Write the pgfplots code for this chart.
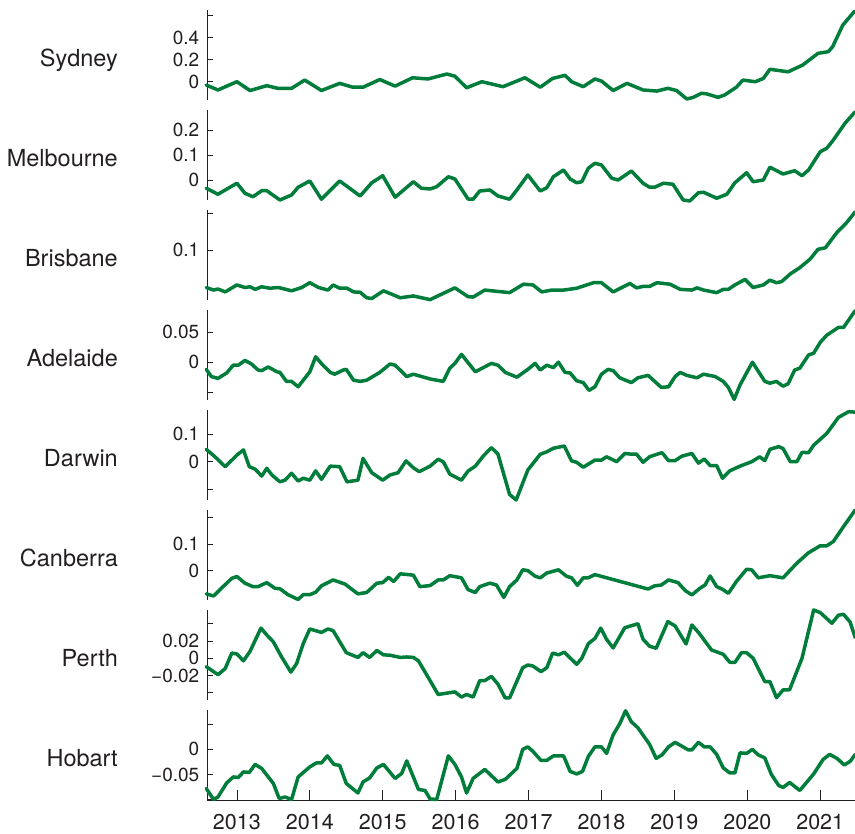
\documentclass[border=0pt]{standalone}
\usepackage{fontspec}
\setmainfont{TeX Gyre Heros}
\usepackage{pgfplots}
\pgfplotsset{compat=1.18}
\definecolor{lg}{RGB}{0,125,58}
\definecolor{ax}{RGB}{35,31,32}
\tikzset{city/.style={font=\fontsize{23.5}{23.5}\selectfont, anchor=base east, inner sep=0pt, text=ax, xshift=-89pt, yshift=33pt}}
\pgfplotsset{
 panel/.style={
  scale only axis, width=648pt, height=90pt,
  xmin=2012.59, xmax=2021.477,
  axis y line*=left,
  clip=false, anchor=south west,
  scaled y ticks=false, scaled x ticks=false,
  /pgf/number format/assume math mode=true,
  axis line style={draw=ax, line width=0.7pt},
  tick style={draw=ax, line width=0.7pt},
  major tick length=6.5pt, tick align=inside,
  yticklabel style={font=\fontsize{19}{19}\selectfont, inner sep=0pt, xshift=-7.5pt, text=ax},
  every axis plot post/.append style={draw=lg, line width=3.5pt, line join=round, line cap=round, mark=none},
 },
 top/.style={axis x line=none, xtick=\empty}
}
\begin{document}
\begin{tikzpicture}
\useasboundingbox (-207pt,-34pt) rectangle (648pt,800pt);
% Sydney
\begin{axis}[panel, top, at={(0,700pt)}, ymin=-0.166, ymax=0.652,
  ytick={0,0.2,0.4,0.6}, yticklabels={0,0.2,0.4,{}}]
\addplot coordinates {(2012.58,-0.03)(2012.74,-0.075)(2013.00,0)(2013.18,-0.08)(2013.41,-0.036)(2013.56,-0.06)(2013.75,-0.06)(2013.93,0.015)(2014.16,-0.08)(2014.41,-0.015)(2014.59,-0.05)(2014.73,-0.05)(2014.96,0.02)(2015.17,-0.04)(2015.41,0.036)(2015.62,0.025)(2015.88,0.07)(2015.99,0.05)(2016.15,-0.055)(2016.36,0)(2016.65,-0.045)(2016.95,0.036)(2017.16,-0.05)(2017.33,0.03)(2017.50,0.058)(2017.59,0)(2017.75,-0.045)(2017.91,0.025)(2018.00,0.006)(2018.16,-0.08)(2018.35,-0.015)(2018.57,-0.075)(2018.76,-0.085)(2018.91,-0.06)(2019.03,-0.08)(2019.17,-0.157)(2019.26,-0.142)(2019.37,-0.105)(2019.44,-0.11)(2019.60,-0.142)(2019.69,-0.12)(2019.85,-0.05)(2019.94,0.015)(2020.11,0)(2020.22,0.03)(2020.31,0.113)(2020.56,0.09)(2020.76,0.152)(2020.97,0.258)(2021.11,0.273)(2021.17,0.318)(2021.31,0.515)(2021.47,0.64)};
\node[city] at (axis description cs:0,0) {Sydney};
\end{axis}
% Melbourne
\begin{axis}[panel, top, at={(0,600pt)}, ymin=-0.08, ymax=0.28,
  ytick={0,0.1,0.2}, yticklabels={0,0.1,0.2}]
\addplot coordinates {(2012.58,-0.033)(2012.74,-0.057)(2013.00,-0.013)(2013.11,-0.053)(2013.22,-0.067)(2013.34,-0.043)(2013.41,-0.043)(2013.59,-0.08)(2013.75,-0.06)(2013.84,-0.029)(2014.00,-0.004)(2014.16,-0.077)(2014.41,-0.004)(2014.69,-0.064)(2014.85,-0.011)(2015.00,0.017)(2015.17,-0.069)(2015.42,-0.007)(2015.53,-0.033)(2015.65,-0.036)(2015.74,-0.027)(2015.90,0.013)(2015.99,0.004)(2016.17,-0.076)(2016.24,-0.077)(2016.33,-0.044)(2016.47,-0.04)(2016.58,-0.064)(2016.74,-0.077)(2016.84,-0.04)(2016.99,0.02)(2017.16,-0.044)(2017.25,-0.031)(2017.34,0.013)(2017.48,0.04)(2017.57,0.004)(2017.66,-0.011)(2017.73,-0.007)(2017.82,0.047)(2017.91,0.067)(2018.00,0.06)(2018.14,0.007)(2018.23,0)(2018.41,0.036)(2018.57,-0.013)(2018.66,-0.029)(2018.73,-0.029)(2018.85,-0.013)(2018.98,-0.017)(2019.12,-0.08)(2019.21,-0.084)(2019.33,-0.051)(2019.40,-0.049)(2019.58,-0.073)(2019.72,-0.057)(2019.83,-0.011)(2019.99,0.029)(2020.08,-0.007)(2020.22,0)(2020.31,0.051)(2020.49,0.024)(2020.65,0.037)(2020.75,0.017)(2020.84,0.04)(2021.00,0.113)(2021.09,0.127)(2021.18,0.16)(2021.34,0.227)(2021.48,0.273)};
\node[city] at (axis description cs:0,0) {Melbourne};
\end{axis}
% Brisbane
\begin{axis}[panel, top, at={(0,500pt)}, ymin=-0.036, ymax=0.209,
  ytick={0.1,0.2}, yticklabels={0.1,{}}]
\addplot coordinates {(2012.58,-0.002)(2012.68,-0.009)(2012.74,-0.006)(2012.84,-0.014)(2013.00,0.005)(2013.11,-0.002)(2013.18,0)(2013.25,-0.007)(2013.34,0)(2013.45,-0.004)(2013.57,-0.002)(2013.75,-0.011)(2013.89,-0.002)(2014.00,0.011)(2014.12,-0.002)(2014.25,-0.009)(2014.32,0.005)(2014.41,-0.004)(2014.51,-0.004)(2014.60,-0.014)(2014.69,-0.015)(2014.78,-0.03)(2014.85,-0.032)(2015.01,-0.011)(2015.12,-0.02)(2015.24,-0.03)(2015.42,-0.025)(2015.65,-0.035)(2015.83,-0.018)(2015.99,-0.003)(2016.17,-0.027)(2016.24,-0.028)(2016.40,-0.009)(2016.74,-0.016)(2016.93,0.007)(2017.06,0.005)(2017.18,-0.014)(2017.32,-0.009)(2017.48,-0.009)(2017.66,-0.004)(2017.89,0.011)(2018.00,0.011)(2018.16,-0.014)(2018.39,0.009)(2018.48,-0.003)(2018.57,0.001)(2018.66,0.001)(2018.76,0.011)(2018.94,0.007)(2019.08,-0.007)(2019.24,-0.009)(2019.31,-0.003)(2019.40,-0.009)(2019.58,-0.016)(2019.67,-0.007)(2019.74,-0.007)(2019.83,0.005)(2019.97,0.02)(2020.08,-0.002)(2020.22,0.005)(2020.31,0.018)(2020.40,0.011)(2020.47,0.014)(2020.59,0.035)(2020.72,0.052)(2020.86,0.075)(2020.97,0.102)(2021.07,0.106)(2021.23,0.148)(2021.36,0.174)(2021.48,0.204)};
\node[city] at (axis description cs:0,0) {Brisbane};
\end{axis}
% Adelaide
\begin{axis}[panel, top, at={(0,400pt)}, ymin=-0.063, ymax=0.087,
  ytick={-0.05,0,0.05}, yticklabels={{},0,0.05}]
\addplot coordinates {(2012.58,-0.012)(2012.65,-0.024)(2012.74,-0.027)(2012.86,-0.018)(2012.95,-0.005)(2013.02,-0.005)(2013.11,0.003)(2013.20,-0.003)(2013.29,-0.013)(2013.34,-0.014)(2013.43,-0.008)(2013.55,-0.016)(2013.59,-0.017)(2013.68,-0.032)(2013.75,-0.032)(2013.84,-0.041)(2013.93,-0.027)(2014.00,-0.016)(2014.08,0.009)(2014.18,-0.005)(2014.28,-0.017)(2014.34,-0.02)(2014.46,-0.013)(2014.50,-0.012)(2014.60,-0.03)(2014.69,-0.032)(2014.78,-0.03)(2014.96,-0.017)(2015.10,-0.003)(2015.17,-0.005)(2015.33,-0.024)(2015.42,-0.020)(2015.65,-0.028)(2015.83,-0.032)(2015.92,-0.01)(2015.99,-0.002)(2016.08,0.013)(2016.27,-0.016)(2016.49,-0.002)(2016.58,-0.005)(2016.68,-0.017)(2016.84,-0.025)(2016.99,-0.012)(2017.09,-0.002)(2017.16,-0.013)(2017.25,-0.005)(2017.34,-0.009)(2017.41,0.0)(2017.50,-0.017)(2017.57,-0.018)(2017.66,-0.031)(2017.75,-0.034)(2017.83,-0.047)(2017.91,-0.041)(2018.00,-0.020)(2018.09,-0.012)(2018.16,-0.014)(2018.25,-0.026)(2018.41,-0.034)(2018.50,-0.026)(2018.64,-0.022)(2018.73,-0.032)(2018.82,-0.042)(2018.92,-0.041)(2019.01,-0.024)(2019.08,-0.017)(2019.17,-0.022)(2019.31,-0.026)(2019.40,-0.02)(2019.56,-0.024)(2019.67,-0.032)(2019.74,-0.042)(2019.82,-0.062)(2019.90,-0.038)(2020.07,0.0)(2020.24,-0.032)(2020.31,-0.035)(2020.40,-0.032)(2020.49,-0.04)(2020.56,-0.036)(2020.65,-0.013)(2020.72,-0.01)(2020.84,0.012)(2020.91,0.015)(2021.00,0.033)(2021.09,0.045)(2021.25,0.058)(2021.32,0.058)(2021.48,0.086)};
\node[city] at (axis description cs:0,0) {Adelaide};
\end{axis}
% Darwin
\begin{axis}[panel, top, at={(0,300pt)}, ymin=-0.139, ymax=0.188,
  ytick={-0.1,0,0.1}, yticklabels={{},0,0.1}]
\addplot coordinates {(2012.58,0.045)(2012.70,0.018)(2012.84,-0.018)(2013.00,0.024)(2013.09,0.043)(2013.17,-0.018)(2013.25,-0.027)(2013.34,-0.052)(2013.41,-0.024)(2013.48,-0.048)(2013.59,-0.073)(2013.66,-0.067)(2013.75,-0.042)(2013.84,-0.07)(2013.91,-0.06)(2014.00,-0.067)(2014.08,-0.033)(2014.16,-0.064)(2014.28,-0.016)(2014.41,-0.018)(2014.51,-0.073)(2014.66,-0.067)(2014.73,0.012)(2014.85,-0.04)(2015.00,-0.067)(2015.10,-0.048)(2015.21,-0.04)(2015.32,0.003)(2015.42,-0.022)(2015.50,-0.036)(2015.65,-0.016)(2015.76,0.009)(2015.83,0.0)(2015.92,-0.045)(2016.08,-0.067)(2016.17,-0.034)(2016.27,-0.016)(2016.38,0.021)(2016.49,0.051)(2016.58,0.028)(2016.74,-0.119)(2016.83,-0.139)(2016.99,-0.03)(2017.16,0.027)(2017.25,0.036)(2017.34,0.049)(2017.49,0.057)(2017.59,0.003)(2017.66,-0.002)(2017.75,-0.02)(2017.91,0.006)(2018.00,0.006)(2018.07,0.018)(2018.21,0.0)(2018.32,0.03)(2018.39,0.028)(2018.48,0.028)(2018.57,-0.002)(2018.66,0.018)(2018.83,0.033)(2018.92,0.004)(2019.01,0.004)(2019.10,0.02)(2019.24,0.03)(2019.33,-0.005)(2019.41,0.01)(2019.49,-0.014)(2019.58,-0.014)(2019.66,-0.06)(2019.76,-0.033)(2019.90,-0.016)(2020.06,0.0)(2020.17,0.018)(2020.24,0.004)(2020.31,0.045)(2020.43,0.055)(2020.49,0.048)(2020.59,0.0)(2020.68,0.0)(2020.75,0.034)(2020.84,0.033)(2020.91,0.06)(2021.09,0.103)(2021.25,0.161)(2021.39,0.182)(2021.48,0.18)};
\node[city] at (axis description cs:0,0) {Darwin};
\end{axis}
% Canberra
\begin{axis}[panel, top, at={(0,200pt)}, ymin=-0.11, ymax=0.227,
  ytick={0,0.1,0.2}, yticklabels={0,0.1,{}}]
\addplot coordinates {(2012.58,-0.087)(2012.68,-0.095)(2012.81,-0.06)(2012.93,-0.029)(2013.00,-0.022)(2013.11,-0.047)(2013.22,-0.06)(2013.29,-0.06)(2013.41,-0.045)(2013.52,-0.066)(2013.59,-0.068)(2013.70,-0.09)(2013.84,-0.108)(2013.91,-0.09)(2014.00,-0.09)(2014.08,-0.081)(2014.16,-0.057)(2014.32,-0.035)(2014.48,-0.05)(2014.66,-0.087)(2014.78,-0.082)(2014.92,-0.047)(2015.00,-0.045)(2015.08,-0.025)(2015.15,-0.041)(2015.24,-0.012)(2015.42,-0.017)(2015.51,-0.06)(2015.65,-0.056)(2015.76,-0.035)(2015.83,-0.035)(2015.92,-0.019)(2016.08,-0.027)(2016.17,-0.071)(2016.27,-0.082)(2016.33,-0.06)(2016.47,-0.047)(2016.56,-0.054)(2016.66,-0.1)(2016.74,-0.06)(2016.84,-0.035)(2016.92,0.003)(2016.99,0.0)(2017.09,-0.021)(2017.16,-0.027)(2017.25,-0.009)(2017.41,0.003)(2017.52,-0.021)(2017.59,-0.027)(2017.67,-0.055)(2017.75,-0.027)(2017.82,-0.027)(2017.91,-0.015)(2018.64,-0.069)(2018.73,-0.057)(2018.82,-0.054)(2018.92,-0.035)(2019.05,-0.045)(2019.15,-0.075)(2019.24,-0.091)(2019.35,-0.066)(2019.42,-0.054)(2019.49,-0.02)(2019.58,-0.06)(2019.66,-0.07)(2019.74,-0.085)(2019.85,-0.041)(2019.99,0.005)(2020.06,0.003)(2020.15,-0.027)(2020.31,-0.019)(2020.49,-0.027)(2020.68,0.028)(2020.84,0.067)(2021.00,0.093)(2021.09,0.093)(2021.18,0.109)(2021.32,0.165)(2021.48,0.227)};
\node[city] at (axis description cs:0,0) {Canberra};
\end{axis}
% Perth
\begin{axis}[panel, top, at={(0,100pt)}, ymin=-0.0484, ymax=0.056,
  ytick={-0.04,-0.02,0,0.02,0.04}, yticklabels={{},−0.02,0,0.02,{}}]
\addplot coordinates {(2012.58,-0.0097)(2012.74,-0.019)(2012.84,-0.012)(2012.93,0.006)(2013.00,0.005)(2013.09,-0.003)(2013.18,0.008)(2013.33,0.035)(2013.41,0.027)(2013.50,0.019)(2013.61,0.002)(2013.74,-0.016)(2013.82,-0.006)(2013.91,0.017)(2014.00,0.034)(2014.16,0.030)(2014.25,0.034)(2014.32,0.032)(2014.50,0.0065)(2014.66,0.001)(2014.73,0.0065)(2014.82,0.001)(2014.92,0.009)(2015.01,0.004)(2015.10,0.0035)(2015.24,0.001)(2015.33,0.0015)(2015.42,0.001)(2015.49,-0.003)(2015.65,-0.026)(2015.76,-0.042)(2015.99,-0.039)(2016.08,-0.045)(2016.15,-0.042)(2016.24,-0.045)(2016.33,-0.026)(2016.40,-0.026)(2016.49,-0.021)(2016.58,-0.030)(2016.68,-0.046)(2016.74,-0.046)(2016.92,-0.011)(2016.99,-0.0078)(2017.06,-0.009)(2017.17,-0.0155)(2017.25,-0.011)(2017.33,0.006)(2017.41,0.004)(2017.49,0.007)(2017.66,-0.007)(2017.73,0)(2017.82,0.017)(2017.91,0.023)(2017.99,0.035)(2018.07,0.022)(2018.16,0.012)(2018.32,0.0355)(2018.50,0.040)(2018.57,0.022)(2018.66,0.014)(2018.75,0.0116)(2018.91,0.0425)(2019.01,0.0375)(2019.16,0.0166)(2019.24,0.0386)(2019.33,0.030)(2019.51,0.0096)(2019.67,0.0046)(2019.76,-0.0046)(2019.83,-0.0048)(2019.92,0.0065)(2019.99,0.0065)(2020.08,0.0)(2020.24,-0.027)(2020.31,-0.027)(2020.40,-0.0457)(2020.49,-0.0368)(2020.58,-0.0365)(2020.75,0)(2020.91,0.056)(2021.00,0.053)(2021.16,0.0406)(2021.25,0.050)(2021.32,0.051)(2021.41,0.042)(2021.48,0.024)};
\node[city] at (axis description cs:0,0) {Perth};
\end{axis}
% Hobart
\begin{axis}[panel, at={(0,0pt)}, ymin=-0.101, ymax=0.0786,
  axis x line*=bottom,
  ytick={-0.1,-0.05,0,0.05}, yticklabels={{},−0.05,0,{}},
  xtick={2013,2014,2015,2016,2017,2018,2019,2020,2021},
  xticklabels={2013,2014,2015,2016,2017,2018,2019,2020,2021},
  xtick style={/pgfplots/major tick length=9.5pt},
  xticklabel style={font=\fontsize{21.5}{21.5}\selectfont, inner sep=0pt, yshift=-14pt, text=ax}]
\addplot coordinates {(2012.58,-0.078)(2012.68,-0.1)(2012.74,-0.095)(2012.86,-0.067)(2012.95,-0.055)(2013.02,-0.056)(2013.09,-0.045)(2013.17,-0.046)(2013.25,-0.03)(2013.34,-0.038)(2013.50,-0.068)(2013.58,-0.098)(2013.66,-0.095)(2013.75,-0.1)(2013.84,-0.055)(2014.00,-0.035)(2014.09,-0.027)(2014.16,-0.027)(2014.24,-0.013)(2014.33,-0.03)(2014.41,-0.032)(2014.50,-0.068)(2014.66,-0.087)(2014.73,-0.065)(2014.82,-0.057)(2014.92,-0.037)(2015.01,-0.03)(2015.17,-0.058)(2015.26,-0.048)(2015.33,-0.023)(2015.49,-0.08)(2015.58,-0.082)(2015.65,-0.099)(2015.74,-0.1)(2015.90,-0.013)(2015.99,-0.03)(2016.08,-0.055)(2016.15,-0.087)(2016.24,-0.058)(2016.40,-0.04)(2016.58,-0.065)(2016.68,-0.06)(2016.84,-0.038)(2016.92,0.0)(2016.99,0.005)(2017.06,-0.004)(2017.17,-0.022)(2017.25,-0.022)(2017.34,-0.013)(2017.48,-0.013)(2017.57,-0.044)(2017.66,-0.049)(2017.74,-0.044)(2017.82,-0.014)(2017.91,0.005)(2018.00,0.005)(2018.07,-0.008)(2018.16,0.029)(2018.25,0.051)(2018.33,0.077)(2018.41,0.055)(2018.50,0.043)(2018.66,0.01)(2018.75,-0.018)(2018.83,-0.011)(2018.92,0.005)(2019.01,0.014)(2019.19,-0.001)(2019.24,-0.001)(2019.33,0.014)(2019.41,0.005)(2019.49,0.005)(2019.58,-0.01)(2019.67,-0.037)(2019.76,-0.047)(2019.83,-0.047)(2019.90,-0.007)(2019.99,-0.008)(2020.07,0.0)(2020.15,-0.011)(2020.24,-0.017)(2020.33,-0.05)(2020.43,-0.072)(2020.49,-0.076)(2020.58,-0.066)(2020.72,-0.082)(2020.91,-0.049)(2021.04,-0.02)(2021.13,-0.01)(2021.23,-0.018)(2021.33,-0.031)(2021.41,-0.024)(2021.48,-0.01)};
\node[city] at (axis description cs:0,0) {Hobart};
\end{axis}
\end{tikzpicture}
\end{document}
